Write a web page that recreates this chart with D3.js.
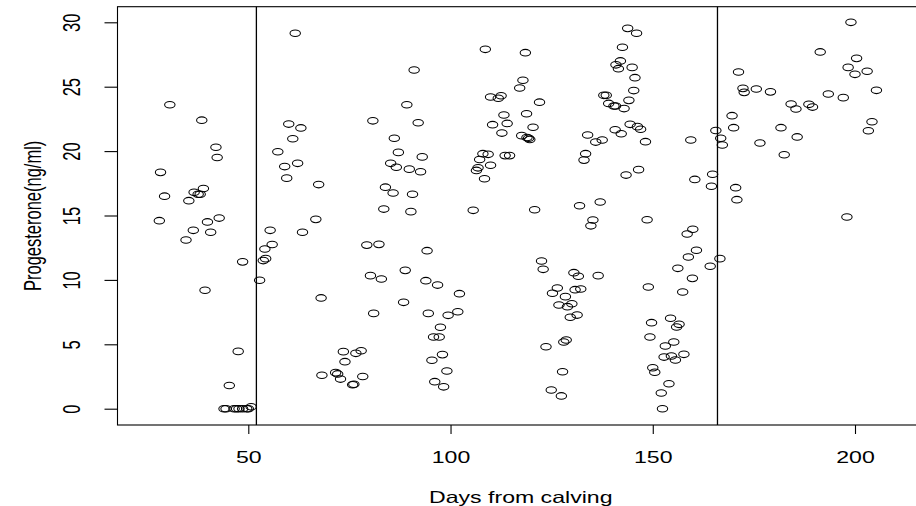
<!DOCTYPE html>
<html>
<head>
<meta charset="utf-8">
<script src="https://cdn.jsdelivr.net/npm/d3@7/dist/d3.min.js"></script>
<style>
  html, body { margin: 0; padding: 0; background: #fff; }
  svg { display: block; }
  text { font-family: "Liberation Sans", Arial, Helvetica, sans-serif; fill: #000; }
</style>
</head>
<body>
<svg id="chart" width="916" height="506"></svg>
<script>
// ---- data ----
const days = [
  30.6, 38.5, 42.0, 42.3, 28.3, 29.3, 35.3, 36.6, 38.1, 37.6, 38.9, 28.0, 36.4, 34.6, 39.9, 42.8, 40.7, 48.6, 39.3, 47.5,
  45.3, 44.0, 44.5, 46.5, 47.1, 47.7, 48.6, 49.6, 50.0, 50.7,
  52.8, 54.1, 54.3, 53.7, 55.4, 55.9, 57.3, 59.0, 59.5, 60.0, 61.0, 61.6, 62.2, 63.0, 63.4, 66.7, 67.4, 68.0, 68.2,
  71.6, 72.1, 72.8, 73.5, 73.9, 75.8, 76.1, 76.6, 77.9, 78.3, 79.3, 80.2, 80.8, 81.0, 82.3, 82.9, 83.5, 83.9, 85.2, 85.8,
  86.1, 86.6, 87.1, 88.4, 88.8, 89.2, 89.8, 90.2, 90.6, 91.0, 92.0, 92.6, 93.0, 93.9, 94.2, 94.5, 95.4, 95.8, 96.1, 96.8,
  97.2, 97.5, 98.0, 98.3, 99.1, 99.4, 101.8, 102.2,
  105.6, 106.4, 106.8, 107.2, 108.0, 108.4, 108.6, 109.3, 109.9, 109.9, 110.4, 111.8, 112.5, 112.7, 113.2, 113.5, 114.0,
  114.6, 117.1, 117.6, 117.9, 118.5, 118.8, 118.9, 119.3, 119.6, 120.4, 120.8, 122.0,
  122.5, 122.9, 123.6, 124.9, 125.2, 126.4, 126.8, 127.4, 127.7, 128.0, 128.4, 128.6, 128.9, 129.6, 130.0, 130.5, 130.8,
  131.3, 131.6, 131.9, 132.2, 133.0, 133.4, 133.9, 134.7, 135.2, 135.9, 136.5, 137.0, 137.5, 137.9, 138.5, 139.1, 140.4,
  140.7, 140.8, 140.9, 141.5, 142.0, 142.2, 142.5, 142.9, 143.4, 143.8, 144.1, 144.4, 144.9, 145.3, 145.6, 146.0, 146.2,
  146.5, 147.0, 148.2, 148.6, 148.9,
  149.3, 149.7, 150.0, 150.5, 152.1, 152.4, 152.8, 153.1, 154.0, 154.4, 154.6, 155.2, 155.6, 155.9, 156.2, 156.5, 157.4,
  157.7, 158.5, 158.8, 159.4, 159.8, 159.9, 160.4, 160.8, 164.2, 164.5, 164.8, 165.6, 166.6, 166.8, 167.2,
  169.6, 170.0, 170.5, 170.8, 171.2, 172.3, 172.6, 175.6, 176.5, 179.1, 181.7, 182.5, 184.2, 185.4, 185.7, 188.6, 189.5,
  191.4, 193.4, 197.1, 198.0, 198.3, 199.0, 200.0, 200.4, 203.0, 203.3, 204.2, 205.3
];
const progesterone = [
  23.6, 22.4, 20.3, 19.5, 18.35, 16.5, 16.15, 16.8, 16.65, 16.65, 17.1, 14.6, 13.85, 13.1, 14.5, 14.8, 13.7, 11.4, 9.2, 4.45,
  1.8, 0, 0, 0, 0, 0, 0, 0, 0, 0.15,
  9.97, 12.4, 11.65, 11.5, 13.85, 12.75, 19.95, 18.8, 17.9, 22.1, 20.96, 29.15, 19.05, 21.8, 13.7, 14.7, 17.4, 8.6, 2.6,
  2.8, 2.7, 2.3, 4.43, 3.65, 1.86, 1.9, 4.3, 4.5, 2.5, 12.7, 10.33, 22.35, 7.4, 12.76, 10.07, 15.5, 17.2, 19.05, 16.75,
  21.0, 18.75, 19.9, 8.26, 10.74, 23.6, 18.6, 15.3, 16.65, 26.3, 22.2, 18.4, 19.55, 9.94, 12.27, 7.4, 3.76, 5.57, 2.1, 9.6,
  5.57, 6.32, 4.2, 1.7, 2.93, 7.25, 7.53, 8.93,
  15.4, 18.5, 18.7, 19.35, 19.8, 17.85, 27.9, 19.75, 24.2, 18.9, 22.05, 24.1, 24.3, 21.4, 22.8, 19.65, 22.15,
  19.65, 24.9, 21.2, 25.5, 27.64, 22.9, 21.05, 21.0, 20.9, 21.85, 15.45, 23.8,
  11.47, 10.82, 4.81, 1.45, 8.96, 9.37, 8.05, 0.99, 2.87, 5.18, 8.7, 5.33, 7.92, 7.1, 8.15, 10.56, 9.24,
  7.27, 10.28, 15.76, 9.29, 19.3, 19.8, 21.25, 14.2, 14.65, 20.7, 10.33, 16.05, 20.86, 24.33, 24.33, 23.7, 23.5,
  21.66, 23.5, 26.7, 26.4, 27.0, 21.35, 28.06, 23.3, 18.14, 29.53, 23.94, 22.08, 26.5, 24.7, 25.7, 29.15, 21.9,
  18.56, 21.7, 20.73, 14.67, 9.45,
  5.57, 6.68, 3.18, 2.83, 1.22, 0, 4.01, 4.87, 1.94, 7.02, 4.09, 5.18, 3.78, 6.34, 10.9, 6.55, 9.06,
  4.22, 13.56, 11.78, 20.86, 10.12, 13.93, 17.8, 12.3, 11.06, 17.27, 18.2, 21.6, 11.65, 21.0, 20.47,
  22.75, 21.82, 17.16, 16.23, 26.14, 24.87, 24.56, 24.82, 20.63, 24.6, 21.82, 19.72, 23.66, 23.27, 21.1, 23.63, 23.42,
  27.7, 24.43, 24.15, 14.88, 26.5, 30.0, 25.96, 27.2, 26.2, 21.58, 22.28, 24.72
];
const xTicks = [50, 100, 150, 200];
const yTicks = [0, 5, 10, 15, 20, 25, 30];
const cutDays = [52, 166];
const xLabel = "Days from calving";
const yLabel = "Progesterone(ng/ml)";

// ---- layout ----
const box = { left: 117.5, top: 6.7, right: 924, bottom: 425 };
const stretch = 1.4;     // horizontal stretch of the original picture
const fontSize = 16.5;

const svg = d3.select("#chart");
const x = d3.scaleLinear().domain([50, 200]).range([248.3, 855]);
const y = d3.scaleLinear().domain([0, 30]).range([408.7, 22.3]);

// points
svg.append("g")
  .selectAll("ellipse")
  .data(days.map((d, i) => [d, progesterone[i]]))
  .join("ellipse")
  .attr("cx", d => x(d[0]))
  .attr("cy", d => y(d[1]))
  .attr("rx", 5.2)
  .attr("ry", 3.3)
  .attr("fill", "none")
  .attr("stroke", "#000")
  .attr("stroke-width", 1.05);

// vertical cut lines
svg.append("g")
  .selectAll("line")
  .data(cutDays)
  .join("line")
  .attr("x1", d => x(d)).attr("x2", d => x(d))
  .attr("y1", box.top).attr("y2", box.bottom)
  .attr("stroke", "#000")
  .attr("stroke-width", 1.3);

// box
svg.append("rect")
  .attr("x", box.left).attr("y", box.top)
  .attr("width", box.right - box.left).attr("height", box.bottom - box.top)
  .attr("fill", "none").attr("stroke", "#000").attr("stroke-width", 1.1);

// x axis
const gx = svg.append("g")
  .attr("transform", `translate(0,${box.bottom})`)
  .call(d3.axisBottom(x).tickValues(xTicks).tickSize(9).tickFormat(d3.format("d")));
gx.select(".domain").remove();
gx.selectAll(".tick line").attr("stroke", "#000").attr("stroke-width", 1.1);
gx.selectAll(".tick text")
  .attr("y", 0).attr("dy", null)
  .attr("transform", `translate(0,${37.7}) scale(${stretch},1)`)
  .attr("font-size", fontSize)
  .attr("font-family", "'Liberation Sans', Arial, sans-serif")
  .attr("text-anchor", "middle")
  .attr("fill", "#000");

// y axis
const gy = svg.append("g")
  .attr("transform", `translate(${box.left},0)`)
  .call(d3.axisLeft(y).tickValues(yTicks).tickSize(13).tickFormat(d3.format("d")));
gy.select(".domain").remove();
gy.selectAll(".tick line").attr("stroke", "#000").attr("stroke-width", 1.1);
gy.selectAll(".tick text")
  .attr("x", 0).attr("dy", null).attr("y", 0)
  .attr("transform", `translate(-37.5,0) scale(${stretch},1) rotate(-90)`)
  .attr("font-size", fontSize)
  .attr("font-family", "'Liberation Sans', Arial, sans-serif")
  .attr("text-anchor", "middle")
  .attr("fill", "#000");

// axis titles
svg.append("text")
  .attr("transform", `translate(${(box.left + box.right) / 2},503) scale(${stretch},1)`)
  .attr("text-anchor", "middle")
  .attr("font-size", fontSize)
  .text(xLabel);

svg.append("text")
  .attr("transform", `translate(41,${(box.top + box.bottom) / 2}) scale(${stretch},1) rotate(-90)`)
  .attr("text-anchor", "middle")
  .attr("font-size", fontSize)
  .text(yLabel);
</script>
</body>
</html>
